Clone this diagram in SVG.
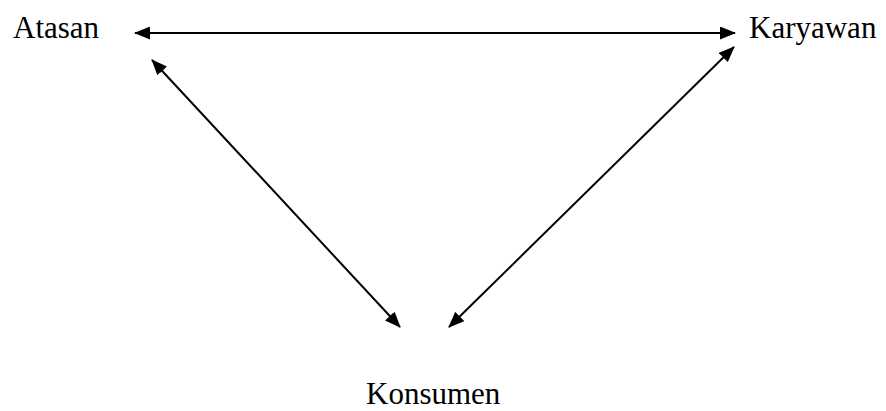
<svg xmlns="http://www.w3.org/2000/svg" width="886" height="411" viewBox="0 0 886 411">
<style>
text{font-family:"Liberation Serif","Times New Roman",serif;font-size:31px;fill:#000}
.c{stroke:#000;stroke-width:2;fill:none}
</style>
<defs>
<marker id="ah" viewBox="0 0 16 13" refX="15" refY="6.5" markerWidth="16" markerHeight="13" orient="auto-start-reverse" markerUnits="userSpaceOnUse">
<path d="M0,0 L16,6.5 L0,13 Z" fill="#000"/>
</marker>
</defs>
<g id="atasan"><text x="13" y="38">Atasan</text></g>
<g id="karyawan"><text x="749" y="38">Karyawan</text></g>
<g id="konsumen"><text x="366" y="404">Konsumen</text></g>
<g id="connectors">
<line class="c" x1="135" y1="33" x2="735" y2="33" marker-start="url(#ah)" marker-end="url(#ah)"/>
<line class="c" x1="152" y1="60" x2="400" y2="327" marker-start="url(#ah)" marker-end="url(#ah)"/>
<line class="c" x1="734" y1="47" x2="449" y2="327" marker-start="url(#ah)" marker-end="url(#ah)"/>
</g>
</svg>
